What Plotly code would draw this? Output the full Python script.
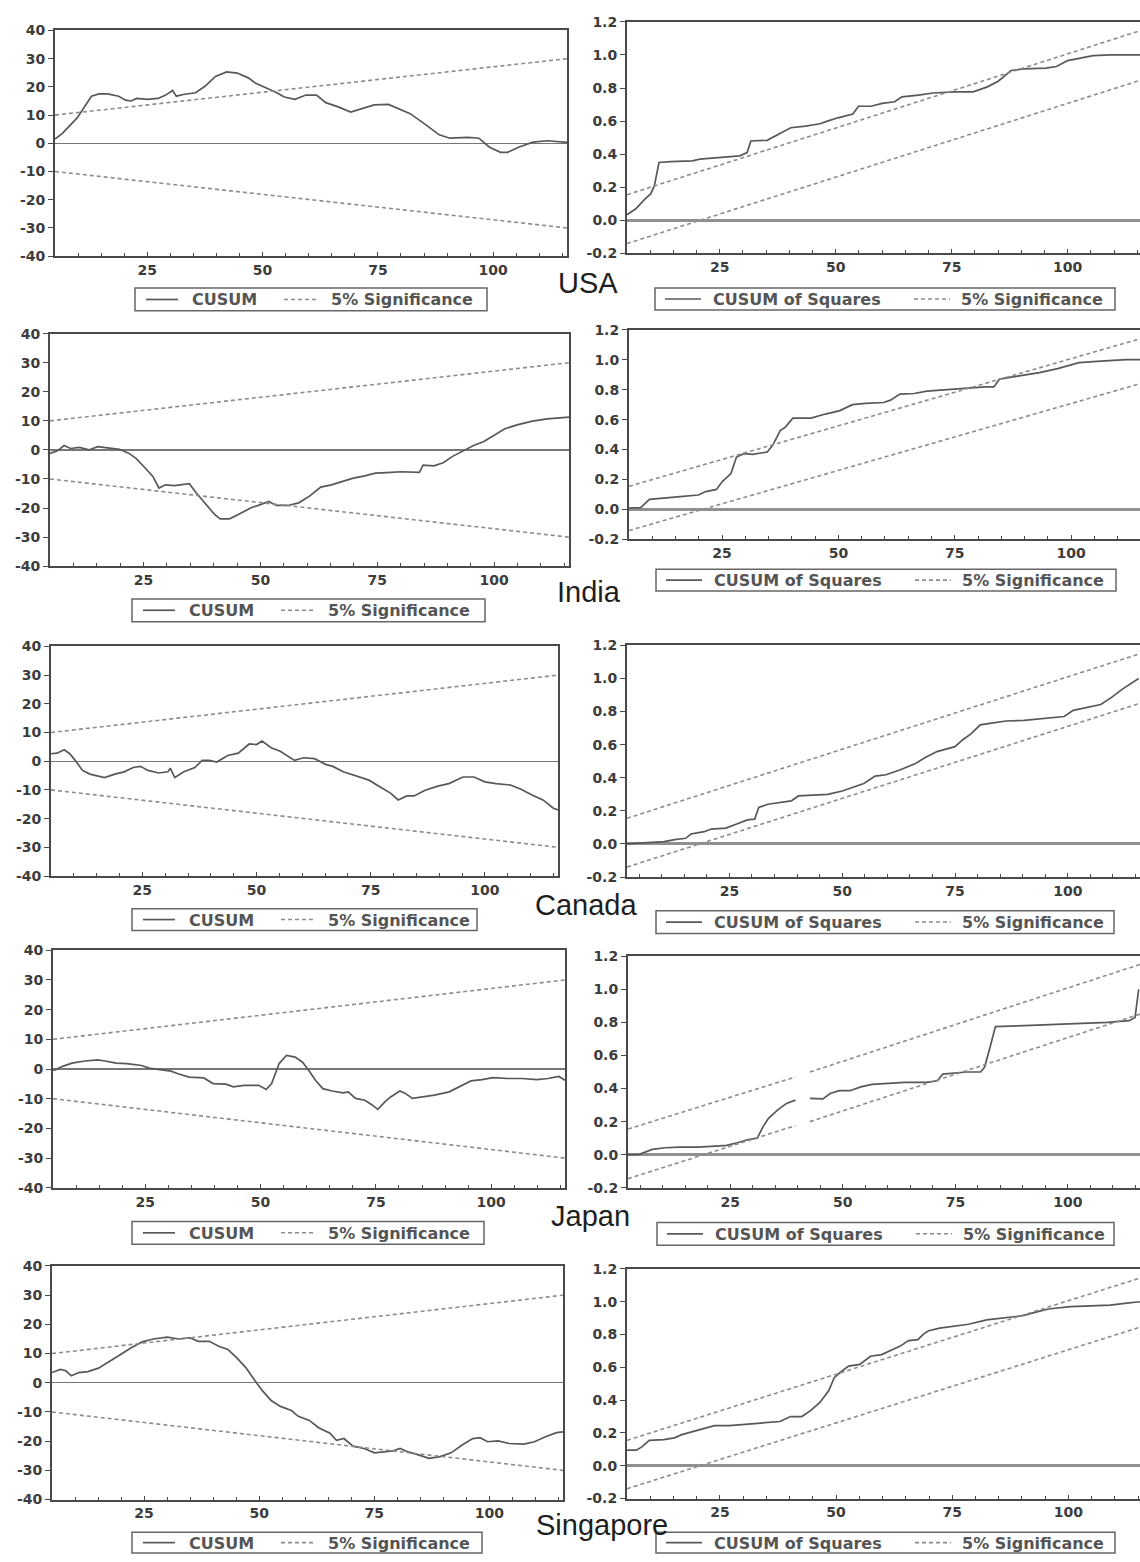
import plotly.graph_objects as go

W, H = 1140, 1562

# ---------------- data ----------------
cusum_ticks = [-40, -30, -20, -10, 0, 10, 20, 30, 40]
cusum_tick_text = ["-40", "-30", "-20", "-10", "0", "10", "20", "30", "40"]
sq_ticks = [-0.2, 0.0, 0.2, 0.4, 0.6, 0.8, 1.0, 1.2]
sq_tick_text = ["-0.2", "0.0", "0.2", "0.4", "0.6", "0.8", "1.0", "1.2"]

cusum_legend = ["CUSUM", "5% Significance"]
sq_legend = ["CUSUM of Squares", "5% Significance"]

cusum_sig_x = [5, 116]
cusum_sig_upper = [10, 30]
cusum_sig_lower = [-10, -30]

sq_sig_x = [5, 116]
sq_sig_upper = [0.155, 1.15]
sq_sig_lower = [-0.14, 0.85]
sq_sig_x_wide = [2.3, 116]
japan_sq_sig_x = [2.3, 39.5, None, 42.7, 116]
japan_sq_sig_upper = [0.155, 0.47, None, 0.5, 1.15]
japan_sq_sig_lower = [-0.145, 0.176, None, 0.2, 0.85]

usa_cusum_x = [5, 6.6, 9.8, 11.7, 12.9, 14.5, 16.4, 18.8, 20.3, 21.5, 22.7, 25, 27.3, 28.9, 30.5,
               31.3, 32.8, 35.5, 37.5, 39.8, 42.2, 44.5, 46.9, 48.4, 50.8, 53.1, 54.7, 57, 59.4, 61.7,
               63.7, 66.4, 69.1, 71.1, 74.2, 77.3, 79.7, 82, 85.2, 88.3, 90.6, 94.5, 96.9, 99.2, 101.6,
               103.1, 105.5, 108.6, 111.7, 114.8, 116]
usa_cusum_y = [1.5, 3.5, 9, 13.8, 16.7, 17.5, 17.5, 16.7, 15.3, 15, 15.9, 15.6, 15.9, 17, 18.7,
               16.7, 17.3, 17.9, 20.2, 23.7, 25.3, 24.9, 23.2, 21.4, 19.6, 17.9, 16.4, 15.6, 17.1, 17.1,
               14.4, 12.9, 11.1, 12, 13.6, 13.8, 12, 10.5, 6.8, 3, 1.8, 2.1, 1.8, -1.4, -3.2,
               -3.2, -1.4, 0.4, 0.9, 0.4, 0.3]

usa_sq_x = [5, 6.9, 8.9, 10.1, 10.9, 11.9, 14.4, 19.1, 20.7, 25.4, 29.3, 30.9, 31.7, 35.2, 37.6,
            40.3, 43.5, 46.6, 48.2, 50.5, 53.7, 54.9, 57.6, 60, 62.7, 64.3, 67.8, 71, 75.7, 79.6,
            82.7, 85.1, 87.8, 90.6, 95.3, 97.6, 100, 103.2, 105.5, 109.4, 116]
usa_sq_y = [0.034, 0.07, 0.13, 0.16, 0.21, 0.35, 0.355, 0.36, 0.37, 0.38, 0.39, 0.41, 0.48, 0.484, 0.52,
            0.56, 0.57, 0.584, 0.6, 0.62, 0.643, 0.69, 0.69, 0.707, 0.717, 0.747, 0.757, 0.77, 0.777, 0.777,
            0.807, 0.843, 0.906, 0.916, 0.92, 0.93, 0.966, 0.982, 0.996, 1.0, 1.0]

india_cusum_x = [5, 6.6, 8, 9.4, 11.3, 13.3, 15.2, 17.6, 19.9, 21.9, 23.4, 25.4, 27, 28.3, 29.7,
                 31.6, 33.2, 34.8, 36.3, 38.3, 40.2, 41.4, 43.4, 45.3, 48, 50, 51.8, 53.4, 55.9, 58.2,
                 60.5, 62.9, 65.2, 67.6, 69.9, 72.3, 74.6, 77, 80.1, 84, 84.8, 87.1, 89.1, 91, 93.4,
                 95.7, 97.7, 100, 102.3, 105.1, 108.2, 111.3, 116]
india_cusum_y = [-1.2, -0.3, 1.5, 0.5, 0.85, 0, 1.1, 0.7, 0.2, -1.2, -2.9, -6.3, -9.1, -13.1, -12,
                 -12.3, -12, -11.6, -14.8, -18.8, -22.2, -23.7, -23.7, -22.2, -19.9, -18.8, -17.7, -19.1, -19.1, -18.2,
                 -15.9, -12.8, -12, -10.8, -9.7, -8.9, -8, -7.8, -7.5, -7.7, -5.2, -5.5, -4.4, -2.3, -0.3,
                 1.6, 2.8, 5, 7.3, 8.7, 9.9, 10.7, 11.3]

india_sq_x = [5, 7.5, 9.4, 12.9, 16, 19.9, 21.5, 23.8, 25, 26.9, 28.1, 29.7, 31.6, 34.7, 35.9,
              37.5, 38.6, 40.2, 44.1, 47.2, 50.3, 53, 55.8, 59.7, 61.2, 63.2, 66.3, 69, 73.7, 78.3,
              81.5, 83.4, 84.6, 88.5, 93.2, 97.1, 101.7, 106.4, 111.8, 116]
india_sq_y = [0.01, 0.013, 0.068, 0.075, 0.086, 0.097, 0.12, 0.134, 0.185, 0.24, 0.35, 0.373, 0.368, 0.384, 0.43,
              0.527, 0.55, 0.61, 0.61, 0.637, 0.66, 0.7, 0.708, 0.714, 0.73, 0.77, 0.774, 0.79, 0.8, 0.813,
              0.818, 0.818, 0.87, 0.89, 0.913, 0.94, 0.98, 0.99, 1.0, 1.0]

canada_cusum_x = [5, 6.3, 7.9, 9.1, 10.3, 11.9, 13.5, 15.1, 16.7, 19, 21, 23, 24.6, 26.2, 28.6,
                  30.6, 31.1, 32.1, 34.1, 36.5, 38.1, 39.7, 41.3, 43.7, 46, 48.4, 50, 51.2, 53.2, 55.2,
                  57.1, 58.3, 60.3, 62.7, 65.1, 66.7, 69, 72.2, 74.6, 77, 79.4, 81, 82.9, 84.5, 86.9,
                  89.7, 92.1, 95.2, 97.6, 100, 102.4, 105.6, 107.9, 110.3, 112.7, 115, 116]
canada_cusum_y = [2.6, 2.8, 4, 2.6, 0.3, -3.2, -4.5, -5.2, -5.7, -4.5, -3.7, -2.2, -1.8, -3.2, -4.1,
                  -3.7, -2.4, -5.7, -3.7, -2.2, 0.3, 0.3, -0.3, 2, 2.8, 6, 5.8, 7, 4.7, 3.5,
                  1.7, 0.3, 1.2, 0.9, -1.1, -1.8, -3.7, -5.5, -6.6, -8.9, -11.2, -13.5, -12.1, -12.1, -10.1,
                  -8.7, -7.8, -5.5, -5.5, -7.2, -7.8, -8.3, -9.8, -11.8, -13.5, -16.4, -17]

canada_sq_x = [2.3, 7.3, 10.5, 12.9, 15.3, 16.5, 19.4, 21, 24.2, 26.6, 29, 30.6, 31.5, 33.5, 36.3,
               38.7, 40.3, 42.7, 46.8, 50, 52, 54.8, 57.3, 59.7, 62.9, 66.1, 68.5, 71, 75, 76.6,
               78.6, 80.6, 83.1, 86.3, 90.3, 94.4, 99.2, 101.2, 104, 107.3, 109.7, 112.1, 115.7]
canada_sq_y = [0, 0.006, 0.014, 0.026, 0.034, 0.06, 0.074, 0.09, 0.096, 0.12, 0.145, 0.15, 0.22, 0.24, 0.253,
               0.26, 0.29, 0.295, 0.3, 0.32, 0.34, 0.365, 0.41, 0.418, 0.448, 0.484, 0.524, 0.558, 0.588, 0.627,
               0.667, 0.72, 0.73, 0.743, 0.747, 0.757, 0.77, 0.807, 0.823, 0.843, 0.886, 0.936, 1.0]

japan_cusum_x = [5, 5.6, 7.1, 9.1, 11.9, 14.7, 16.3, 18.7, 21, 24.2, 25.8, 28.2, 30.6, 32.1, 34.5,
                 37.7, 39.7, 42.5, 44.1, 46.4, 49.6, 51.2, 52.4, 54, 55.6, 57.5, 59.1, 60.7, 61.9, 63.5,
                 65.5, 67.9, 69, 70.6, 72.6, 74.2, 75.4, 77, 78.2, 80.2, 81.4, 82.9, 85.3, 87.7, 90.9,
                 93.3, 95.6, 98, 100.4, 103.6, 106.7, 109.9, 112.3, 114.7, 116]
japan_cusum_y = [-0.4, -0.2, 0.9, 2, 2.7, 3.1, 2.7, 2, 1.8, 1.2, 0.3, -0.2, -0.7, -1.6, -2.7,
                 -3, -4.9, -5.1, -6, -5.5, -5.5, -6.9, -4.9, 1.8, 4.6, 4, 2.3, -1, -3.8, -6.6,
                 -7.4, -8, -7.7, -9.9, -10.5, -12.1, -13.6, -11, -9.4, -7.4, -8.2, -9.9, -9.4, -8.8, -7.7,
                 -5.8, -4, -3.6, -2.9, -3.2, -3.2, -3.6, -3.2, -2.5, -3.8]

japan_sq_x = [2.3, 4.8, 7.7, 10.5, 13.7, 17.7, 21.8, 24.2, 26.6, 29, 31, 32.3, 33.5, 35.5, 37.5,
              39.5, None, 42.7, 45.6, 47.2, 49.2, 51.6, 54, 56.5, 59.7, 63.7, 68.5, 71, 72.2, 75,
              77.4, 80.6, 81.5, 82.7, 83.9, 90.3, 95.9, 102.4, 108.8, 113.6, 114.9, 115.7]
japan_sq_y = [0, 0.002, 0.032, 0.042, 0.046, 0.046, 0.052, 0.056, 0.072, 0.092, 0.1, 0.17, 0.22, 0.27, 0.31,
              0.33, None, 0.34, 0.337, 0.37, 0.387, 0.387, 0.41, 0.425, 0.43, 0.437, 0.437, 0.447, 0.487, 0.495,
              0.5, 0.5, 0.53, 0.65, 0.774, 0.78, 0.786, 0.79, 0.8, 0.81, 0.83, 1.0]

singapore_cusum_x = [5, 6.8, 8, 9.2, 10.8, 12.8, 15.1, 17.5, 19.9, 22.2, 24.6, 27, 30.1, 32.5, 34.9,
                     36.8, 39.2, 41.2, 43.2, 45.1, 47.1, 49.1, 50.7, 52.6, 54.6, 57, 58.5, 60.9, 62.9, 65.3,
                     66.8, 68.4, 70.4, 72.8, 75.1, 77.5, 79.1, 80.6, 82.2, 84.6, 86.9, 89.3, 91.7, 94, 96.4,
                     98, 99.6, 101.9, 104.3, 107.5, 109.8, 112.2, 114.6, 116]
singapore_cusum_y = [3.5, 4.6, 4.1, 2.4, 3.5, 3.8, 5, 7.5, 9.7, 12, 14, 15, 15.6, 15, 15.4,
                     14.2, 14.2, 12.5, 11.4, 8.6, 5.2, 0.7, -2.7, -6.1, -8.1, -9.5, -11.5, -12.9, -15.4, -17.2,
                     -19.7, -19.1, -21.7, -22.5, -24, -23.6, -23.3, -22.5, -23.6, -24.7, -25.9, -25.3, -24, -21.4, -19.1,
                     -18.8, -20.2, -19.9, -20.8, -21, -20.2, -18.5, -17.1, -16.8]

singapore_sq_x = [5, 7, 8.2, 9.8, 12.9, 15.2, 16.8, 19.9, 22.3, 23.8, 27, 31.6, 34.8, 37.9, 40.2,
                  42.6, 44.5, 46.5, 48.4, 49.6, 50.8, 52.7, 55.1, 57.4, 59.8, 62.1, 63.7, 65.6, 67.6, 68.8,
                  69.9, 72.3, 75.4, 78.5, 82.4, 86.3, 90.2, 93.4, 95.7, 100.4, 105.1, 109, 112.1, 115.4]
singapore_sq_y = [0.095, 0.095, 0.115, 0.155, 0.16, 0.17, 0.19, 0.215, 0.235, 0.245, 0.245, 0.255, 0.265, 0.27, 0.3,
                  0.3, 0.336, 0.386, 0.457, 0.537, 0.567, 0.608, 0.618, 0.668, 0.678, 0.708, 0.728, 0.763, 0.769, 0.803,
                  0.823, 0.839, 0.853, 0.863, 0.889, 0.903, 0.915, 0.94, 0.956, 0.97, 0.974, 0.98, 0.99, 1.0]

countries = ["USA", "India", "Canada", "Japan", "Singapore"]

# ---------------- layout of the panels (pixels) ----------------
# box = (left, top, right, bottom) of plot area; lbox = legend box (left, top, right, bottom)
panels = [
    dict(kind="cusum", x=usa_cusum_x, y=usa_cusum_y, sx=cusum_sig_x, su=cusum_sig_upper, sl=cusum_sig_lower,
         box=(55, 22.7, 567, 250.7), xr=[5, 116], lbox=(135, 283, 487, 306)),
    dict(kind="sq", x=usa_sq_x, y=usa_sq_y, sx=sq_sig_x, su=sq_sig_upper, sl=sq_sig_lower,
         box=(627, 14, 1140, 248), xr=[5, 115.6], lbox=(655, 283, 1115, 305)),
    dict(kind="cusum", x=india_cusum_x, y=india_cusum_y, sx=cusum_sig_x, su=cusum_sig_upper, sl=cusum_sig_lower,
         box=(50, 329, 569, 564), xr=[5, 116], lbox=(132, 597, 485, 620)),
    dict(kind="sq", x=india_sq_x, y=india_sq_y, sx=sq_sig_x, su=sq_sig_upper, sl=sq_sig_lower,
         box=(629, 325, 1140, 537), xr=[5, 114.8], lbox=(656, 567, 1116, 589)),
    dict(kind="cusum", x=canada_cusum_x, y=canada_cusum_y, sx=cusum_sig_x, su=cusum_sig_upper, sl=cusum_sig_lower,
         box=(51, 645, 558, 877), xr=[5, 116], lbox=(132, 910, 477, 932)),
    dict(kind="sq", x=canada_sq_x, y=canada_sq_y, sx=sq_sig_x_wide, su=sq_sig_upper, sl=sq_sig_lower,
         box=(627, 644, 1140, 878), xr=[2.3, 116], lbox=(656, 912, 1114, 935)),
    dict(kind="cusum", x=japan_cusum_x, y=japan_cusum_y, sx=cusum_sig_x, su=cusum_sig_upper, sl=cusum_sig_lower,
         box=(53, 952, 565, 1192), xr=[5, 116], lbox=(132, 1226, 484, 1249)),
    dict(kind="sq", x=japan_sq_x, y=japan_sq_y, sx=japan_sq_sig_x, su=japan_sq_sig_upper, sl=japan_sq_sig_lower,
         box=(628, 958, 1140, 1192), xr=[2.3, 116], lbox=(657, 1227, 1114, 1250)),
    dict(kind="cusum", x=singapore_cusum_x, y=singapore_cusum_y, sx=cusum_sig_x, su=cusum_sig_upper, sl=cusum_sig_lower,
         box=(52, 1271, 563, 1507), xr=[5, 116], lbox=(132, 1540, 482, 1561)),
    dict(kind="sq", x=singapore_sq_x, y=singapore_sq_y, sx=sq_sig_x, su=sq_sig_upper, sl=sq_sig_lower,
         box=(627, 1274, 1140, 1506), xr=[5, 115.4], lbox=(656, 1540, 1115, 1561)),
]
country_pos = [(588, 278), (589, 590), (586, 906), (590, 1221), (602, 1533)]
# legend item offsets from legend-box left edge: (solid start, solid end, text1, dash start, dash end, text2)
legend_offsets = {"cusum": (11, 43, 55, 149, 184, 194), "sq": (10, 46, 56, 259, 295, 304)}

SOLID = "#585858"
DASH = "#8c8c8c"
FRAME = "#4a4a4a"
TICKFONT = dict(family="DejaVu Sans", size=14, color="#3c3c3c", weight="bold")
LEGFONT = dict(family="DejaVu Sans", size=16, color="#555555", weight="bold")


def px(xp):
    return xp / W


def py(yp):
    return 1 - yp / H


fig = go.Figure()
layout = dict(width=W, height=H, margin=dict(l=0, r=0, t=0, b=0), autosize=False,
              paper_bgcolor="white", plot_bgcolor="white", showlegend=False, hovermode=False)
shapes = []
annotations = []

for i, p in enumerate(panels, start=1):
    sfx = "" if i == 1 else str(i)
    xref, yref = "x" + sfx, "y" + sfx
    is_sq = p["kind"] == "sq"
    labels = sq_legend if is_sq else cusum_legend
    fig.add_trace(go.Scatter(x=p["x"], y=p["y"], mode="lines", name=labels[0],
                             line=dict(color=SOLID, width=1.7), xaxis=xref, yaxis=yref))
    fig.add_trace(go.Scatter(x=p["sx"], y=p["su"], mode="lines", name=labels[1],
                             line=dict(color=DASH, width=1.6, dash="4px,3px"), xaxis=xref, yaxis=yref))
    fig.add_trace(go.Scatter(x=p["sx"], y=p["sl"], mode="lines", name=labels[1],
                             line=dict(color=DASH, width=1.6, dash="4px,3px"), xaxis=xref, yaxis=yref))

    left, top, right, bottom = p["box"]
    layout["xaxis" + sfx] = dict(
        domain=[px(left), px(right)], range=p["xr"], anchor=yref,
        tickmode="linear", tick0=0, dtick=25, ticks="inside", ticklen=4, tickcolor=FRAME,
        minor=dict(ticks="inside", ticklen=3, dtick=5, tick0=0, tickcolor=FRAME, showgrid=False),
        showline=True, mirror=True, linecolor=FRAME, linewidth=2,
        showgrid=False, zeroline=False, tickfont=TICKFONT, fixedrange=True)
    layout["yaxis" + sfx] = dict(
        domain=[py(bottom), py(top)],
        range=[-0.2, 1.2] if is_sq else [-40, 40], anchor=xref,
        tickmode="array",
        tickvals=sq_ticks if is_sq else cusum_ticks,
        ticktext=sq_tick_text if is_sq else cusum_tick_text,
        ticks="outside", ticklen=5, tickcolor=FRAME,
        showline=True, mirror=(not is_sq), linecolor=FRAME, linewidth=2,
        showgrid=False, zeroline=True,
        zerolinecolor="#909090" if is_sq else "#777777",
        zerolinewidth=3 if is_sq else 1.2,
        tickfont=TICKFONT, fixedrange=True)

    # legend box drawn in paper coordinates
    l0, t0, r0, b0 = p["lbox"]
    ym = (t0 + b0) / 2
    s0, s1, tx1, d0, d1, tx2 = legend_offsets[p["kind"]]
    shapes.append(dict(type="rect", xref="paper", yref="paper", x0=px(l0), x1=px(r0), y0=py(b0), y1=py(t0),
                       line=dict(color="#666666", width=1.5), fillcolor="white", layer="above"))
    shapes.append(dict(type="line", xref="paper", yref="paper", x0=px(l0 + s0), x1=px(l0 + s1),
                       y0=py(ym), y1=py(ym), line=dict(color=SOLID, width=1.7)))
    shapes.append(dict(type="line", xref="paper", yref="paper", x0=px(l0 + d0), x1=px(l0 + d1),
                       y0=py(ym), y1=py(ym), line=dict(color=DASH, width=1.6, dash="4px,3px")))
    annotations.append(dict(text=labels[0], x=px(l0 + tx1), y=py(ym + 0.5), xref="paper", yref="paper",
                            xanchor="left", yanchor="middle", showarrow=False, font=LEGFONT))
    annotations.append(dict(text=labels[1], x=px(l0 + tx2), y=py(ym + 0.5), xref="paper", yref="paper",
                            xanchor="left", yanchor="middle", showarrow=False, font=LEGFONT))

for name, (cx, cy) in zip(countries, country_pos):
    annotations.append(dict(text=name, x=px(cx), y=py(cy), xref="paper", yref="paper",
                            xanchor="center", yanchor="middle", showarrow=False,
                            font=dict(family="Liberation Sans, Arial", size=29, color="#1e1e1e")))

layout["shapes"] = shapes
layout["annotations"] = annotations
fig.update_layout(**layout)
fig.write_html("out.html",
               config={"displayModeBar": False, "staticPlot": True},
               post_script="document.body.style.margin='0px';document.body.style.overflow='hidden';")
